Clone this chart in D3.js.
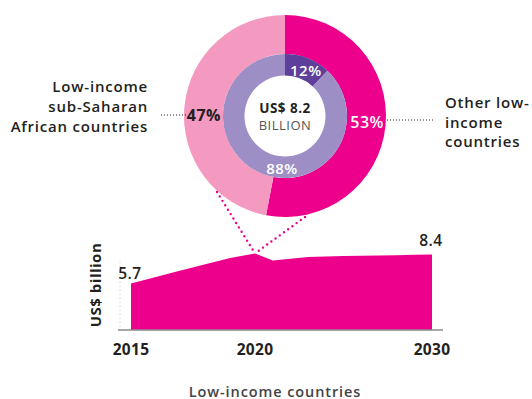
<!DOCTYPE html>
<html><head><meta charset="utf-8">
<script src="https://cdn.jsdelivr.net/npm/d3@7"></script>
<style>
html,body{margin:0;padding:0;background:#fff;}
text{font-family:"Open Sans",sans-serif;}
</style></head>
<body>
<svg id="c" width="532" height="399"></svg>
<script>
// ---- data ----
const outerLabels = ["Other low-income countries", "Low-income sub-Saharan African countries"];
const outerValues = [53, 47];
const innerLabels = ["Small share", "Large share"];
const innerValues = [12, 88];
const totalLabel = ["US$ 8.2", "BILLION"];
const years = [2015,2016,2017,2018,2019,2020,2021,2022,2023,2024,2025,2026,2027,2028,2029,2030];
const amounts = [5.7,6.3,6.9,7.5,8.07,8.5,7.85,8.0,8.17,8.22,8.25,8.28,8.31,8.34,8.37,8.4];
const tickYears = [2015, 2020, 2030];
const yFloor = 1.37;

const svg = d3.select("#c");
const dark = "#231f20";
const magenta = "#ec008c", pink = "#f49ac1", lav = "#9d8fc5", purple = "#5e3f99";

// ---- donut ----
const cx = 285, cy = 116;
const g = svg.append("g").attr("transform", `translate(${cx},${cy})`);
const pie = d3.pie().sort(null).value(d => d);
const outerArc = d3.arc().innerRadius(62).outerRadius(101);
const innerArc = d3.arc().innerRadius(40.5).outerRadius(62);
const oArcs = pie(outerValues), iArcs = pie(innerValues);
g.selectAll("path.o").data(oArcs).join("path").attr("class","o")
  .attr("d", outerArc).attr("fill", (d,i) => [magenta, pink][i]);
g.selectAll("path.i").data(iArcs).join("path").attr("class","i")
  .attr("d", innerArc).attr("fill", (d,i) => [purple, lav][i]);

// percentage labels
const pct = d => d + "%";
const c53 = outerArc.centroid(oArcs[0]);
g.append("text").attr("x", c53[0]+1).attr("y", 6).attr("text-anchor","middle")
  .attr("dominant-baseline","central").attr("fill","#fff").attr("font-size",16).attr("font-weight",600)
  .attr("letter-spacing",0.5).text(pct(outerValues[0]));
const c47 = outerArc.centroid(oArcs[1]);
g.append("text").attr("x", c47[0]).attr("y", -1).attr("text-anchor","middle")
  .attr("dominant-baseline","central").attr("fill",dark).attr("font-size",16).attr("font-weight",700)
  .attr("letter-spacing",0.5).text(pct(outerValues[1]));
const c12 = innerArc.centroid(iArcs[0]);
g.append("text").attr("x", c12[0]+2).attr("y", c12[1]+2).attr("text-anchor","middle")
  .attr("dominant-baseline","central").attr("fill","#fff").attr("font-size",15).attr("font-weight",600)
  .attr("letter-spacing",0.5).text(pct(innerValues[0]));
g.append("text").attr("x", -3).attr("y", 52).attr("text-anchor","middle")
  .attr("dominant-baseline","central").attr("fill","#fff").attr("font-size",15).attr("font-weight",600)
  .attr("letter-spacing",0.5).text(pct(innerValues[1]));

// centre
g.append("text").attr("x",0).attr("y",-8).attr("text-anchor","middle").attr("dominant-baseline","central")
  .attr("fill",dark).attr("font-size",13.5).attr("font-weight",700).attr("letter-spacing",0.5).text(totalLabel[0]);
g.append("text").attr("x",0).attr("y",9).attr("text-anchor","middle").attr("dominant-baseline","central")
  .attr("fill","#555").attr("font-size",13).attr("font-weight",400).attr("letter-spacing",0.5).text(totalLabel[1]);

// side labels
const leftLines = ["Low-income","sub-Saharan","African countries"];
svg.append("g").selectAll("text").data(leftLines).join("text")
  .attr("x",148).attr("y",(d,i)=>86+i*20).attr("text-anchor","end").attr("dominant-baseline","central")
  .attr("fill",dark).attr("font-size",15).attr("font-weight",600).attr("letter-spacing",0.8).text(d=>d);
const rightLines = ["Other low-","income","countries"];
svg.append("g").selectAll("text").data(rightLines).join("text")
  .attr("x",445).attr("y",(d,i)=>102+i*19.5).attr("text-anchor","start").attr("dominant-baseline","central")
  .attr("fill",dark).attr("font-size",15).attr("font-weight",600).attr("letter-spacing",0.8).text(d=>d);
svg.append("line").attr("x1",161).attr("x2",186).attr("y1",115).attr("y2",115)
  .attr("stroke",dark).attr("stroke-width",1).attr("stroke-dasharray","1,2");
svg.append("line").attr("x1",387).attr("x2",434).attr("y1",120).attr("y2",120)
  .attr("stroke",dark).attr("stroke-width",1).attr("stroke-dasharray","1,2");

// ---- area ----
const x = d3.scaleLinear().domain([2015, 2020, 2030]).range([131, 255, 432]);
const y = d3.scaleLinear().domain([yFloor, 8.4]).range([330, 254.5]);
const data = years.map((yr,i) => ({yr, v: amounts[i]}));
svg.append("path").datum(data)
  .attr("d", d3.area().x(d=>x(d.yr)).y0(y(yFloor)).y1(d=>y(d.v)))
  .attr("fill", magenta);

// faint y axis
svg.append("line").attr("x1",120).attr("x2",120).attr("y1",262).attr("y2",330)
  .attr("stroke","#ccc").attr("stroke-width",1).attr("stroke-dasharray","1,3");

// x axis
svg.append("line").attr("x1",118).attr("x2",443).attr("y1",y(yFloor)).attr("y2",y(yFloor))
  .attr("stroke","#8a8a8a").attr("stroke-width",1.5);
svg.append("g").selectAll("text").data(tickYears).join("text")
  .attr("x", d=>x(d)).attr("y",349).attr("text-anchor","middle").attr("dominant-baseline","central")
  .attr("fill",dark).attr("font-size",15.5).attr("font-weight",700).attr("letter-spacing",0.3).text(d=>d);

// value labels
svg.append("text").attr("x", x(years[0])-1).attr("y", 273).attr("text-anchor","middle")
  .attr("dominant-baseline","central").attr("fill",dark).attr("font-size",15.5).attr("font-weight",600)
  .attr("letter-spacing",0.5).text(amounts[0]);
svg.append("text").attr("x", x(years[years.length-1])-1).attr("y", 240).attr("text-anchor","middle")
  .attr("dominant-baseline","central").attr("fill",dark).attr("font-size",15.5).attr("font-weight",600)
  .attr("letter-spacing",0.5).text(amounts[amounts.length-1]);

// y title
svg.append("text").attr("transform","translate(95,285) rotate(-90)").attr("text-anchor","middle")
  .attr("dominant-baseline","central").attr("fill",dark).attr("font-size",15).attr("font-weight",700)
  .attr("letter-spacing",0.5).text("US$ billion");

// x title
svg.append("text").attr("x",275).attr("y",391).attr("text-anchor","middle").attr("dominant-baseline","central")
  .attr("fill","#444").attr("font-size",14.5).attr("font-weight",600).attr("letter-spacing",0.9).text("Low-income countries");

// dotted connector lines from donut to the 2020 peak
const peak = [x(2020), y(amounts[years.indexOf(2020)])];
const ends = [[-68, 76], [20, 101]];
svg.append("g").selectAll("line").data(ends).join("line")
  .attr("x1", d=>cx+d[0]).attr("y1", d=>cy+d[1]).attr("x2", peak[0]).attr("y2", peak[1])
  .attr("stroke", magenta).attr("stroke-width", 2.4).attr("stroke-linecap","round")
  .attr("stroke-dasharray","0,5.2");
</script>
</body></html>
